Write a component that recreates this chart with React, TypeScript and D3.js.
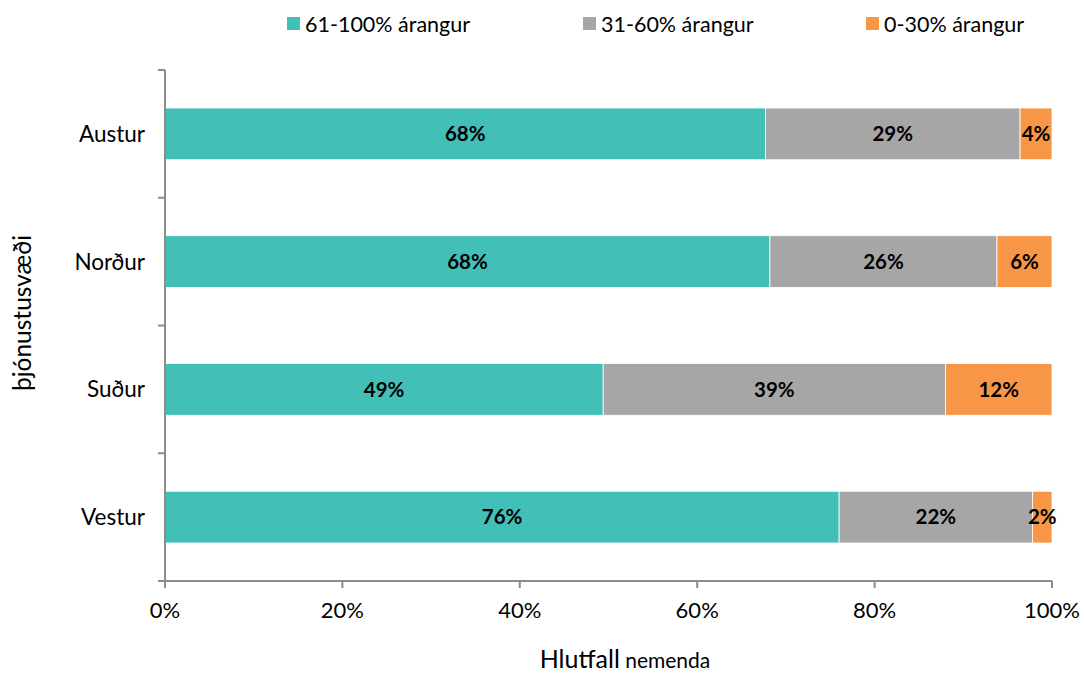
import * as d3 from "d3";

const regions = ["Austur", "Norður", "Suður", "Vestur"];
const seriesNames = ["61-100% árangur", "31-60% árangur", "0-30% árangur"];
const colors = ["#42C0B8", "#A6A6A6", "#F79646"];
const high = [0.677, 0.682, 0.494, 0.76];
const mid = [0.287, 0.256, 0.386, 0.218];
const low = [0.036, 0.062, 0.12, 0.022];
const xTicks = [0, 0.2, 0.4, 0.6, 0.8, 1];

const W = 1084;
const H = 677;
const font = "Lato, 'Open Sans', sans-serif";

export default function App() {
  const x = d3.scaleLinear().domain([0, 1]).range([165, 1052]);
  const y = d3.scaleBand().domain(regions).range([70, 581]).paddingInner(0.595).paddingOuter(0.2975);
  const rows = regions.map((r, i) => ({ region: r, high: high[i], mid: mid[i], low: low[i] }));
  const stack = d3.stack<any>().keys(["high", "mid", "low"])(rows);
  const fmt = d3.format(".0%");
  const step = y.step();
  const bounds = d3.range(regions.length + 1).map((i) => 70 + i * step);

  const legendX = [287, 583, 866];

  return (
    <svg width={W} height={H} style={{ display: "block", position: "absolute", left: 0, top: 0, fontFamily: font }}>
      <rect width={W} height={H} fill="#fff" />
      {/* legend */}
      {seriesNames.map((s, i) => (
        <g key={s} transform={`translate(${legendX[i]},24)`}>
          <rect x={0} y={-7} width={13} height={13} fill={colors[i]} />
          <text x={18} y={0} dy="0.35em" fontSize={21.5} fill="#000">{s}</text>
        </g>
      ))}
      {/* bars */}
      {stack.map((layer, li) => (
        <g key={li}>
          {layer.map((d, i) => (
            <g key={i}>
              <rect
                x={x(d[0])}
                y={y(regions[i])}
                width={x(d[1]) - x(d[0])}
                height={y.bandwidth()}
                fill={colors[li]}
                stroke="#fff"
                strokeWidth={0.8}
              />
              <text
                x={(x(d[0]) + x(d[1])) / 2}
                y={y(regions[i])! + y.bandwidth() / 2}
                dy="0.35em"
                textAnchor="middle"
                fontWeight="bold"
                fontSize={20.5}
                fill="#000"
              >
                {fmt(d[1] - d[0])}
              </text>
            </g>
          ))}
        </g>
      ))}
      {/* y axis */}
      <line x1={165} x2={165} y1={70} y2={581} stroke="#8c8c8c" strokeWidth={2} />
      {bounds.map((b, i) => (
        <line key={i} x1={158} x2={165} y1={b} y2={b} stroke="#8c8c8c" strokeWidth={2} />
      ))}
      {regions.map((r) => (
        <text key={r} x={145} y={y(r)! + y.bandwidth() / 2} dy="0.35em" textAnchor="end" fontSize={22.5} fill="#000">
          {r}
        </text>
      ))}
      {/* x axis */}
      <line x1={158} x2={1052} y1={581} y2={581} stroke="#8c8c8c" strokeWidth={2} />
      {xTicks.map((t) => (
        <g key={t}>
          <line x1={x(t)} x2={x(t)} y1={581} y2={588} stroke="#8c8c8c" strokeWidth={2} />
          <text x={x(t)} y={610} dy="0.35em" textAnchor="middle" fontSize={22} fill="#000">
            {fmt(t)}
          </text>
        </g>
      ))}
      <text x={625} y={662} dy="0.35em" textAnchor="middle" fill="#000">
        <tspan fontSize={25}>Hlutfall</tspan>
        <tspan fontSize={21}> nemenda</tspan>
      </text>
      <text transform="translate(22,313) rotate(-90)" dy="0.35em" textAnchor="middle" fontSize={24.5} fill="#000">
        þjónustusvæði
      </text>
    </svg>
  );
}
